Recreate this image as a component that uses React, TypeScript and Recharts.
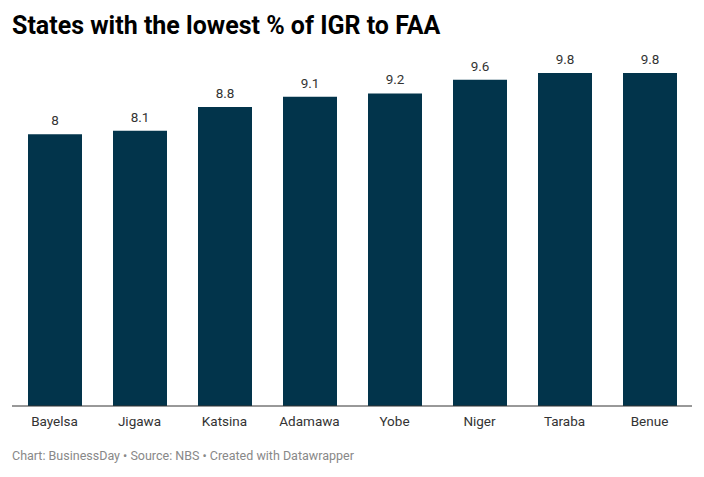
import React from "react";
import { BarChart, Bar, XAxis, YAxis, LabelList } from "recharts";

const states = ["Bayelsa", "Jigawa", "Katsina", "Adamawa", "Yobe", "Niger", "Taraba", "Benue"];
const igrPct = [8, 8.1, 8.8, 9.1, 9.2, 9.6, 9.8, 9.8];

const data = states.map((s, i) => ({ state: s, value: igrPct[i] }));

export default function App() {
  return (
    <div
      style={{
        position: "fixed",
        left: 0,
        top: 0,
        width: 704,
        height: 477,
        background: "#fff",
        fontFamily: "Roboto, sans-serif",
      }}
    >
      <div
        style={{
          position: "absolute",
          left: 12,
          top: 12,
          fontSize: 25,
          fontWeight: 700,
          color: "#000",
          lineHeight: "27px",
          whiteSpace: "nowrap",
        }}
      >
        States with the lowest % of IGR to FAA
      </div>
      <div style={{ position: "absolute", left: 0, top: 0 }}>
        <BarChart
          width={704}
          height={477}
          data={data}
          margin={{ top: 73, right: 12, left: 12, bottom: 41 }}
        >
          <YAxis hide domain={[0, 9.8]} />
          <XAxis
            dataKey="state"
            height={30}
            tickLine={false}
            axisLine={{ stroke: "#333", strokeWidth: 1 }}
            tick={{ fill: "#333", fontSize: 13.5, fontFamily: "Roboto, sans-serif" }}
            tickMargin={4}
            interval={0}
          />
          <Bar dataKey="value" fill="#02344b" barSize={54} isAnimationActive={false}>
            <LabelList
              dataKey="value"
              position="top"
              offset={9}
              style={{ fill: "#333", fontSize: 13.5, fontFamily: "Roboto, sans-serif" }}
            />
          </Bar>
        </BarChart>
      </div>
      <div
        style={{
          position: "absolute",
          left: 12,
          top: 448,
          fontSize: 12.5,
          color: "#888",
          lineHeight: "16px",
          whiteSpace: "nowrap",
        }}
      >
        Chart: BusinessDay • Source: NBS • Created with Datawrapper
      </div>
    </div>
  );
}
